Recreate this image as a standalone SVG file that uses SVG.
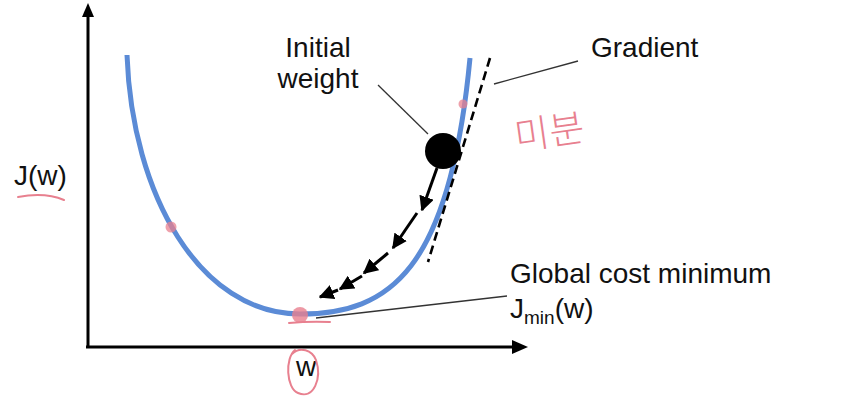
<svg xmlns="http://www.w3.org/2000/svg" width="868" height="414" viewBox="0 0 868 414">
<defs>
<style>
.t{font-family:"Liberation Sans",Arial,sans-serif;font-size:28px;fill:#111}
.ax{stroke:#000;stroke-width:3;fill:none}
.lead{stroke:#333;stroke-width:1.3;fill:none}
.step{stroke:#000;stroke-width:3;fill:none}
.pink{stroke:#e8808f;fill:none;stroke-linecap:round;stroke-linejoin:round}
</style>
<marker id="ah" viewBox="0 0 10 10" refX="9" refY="5" markerWidth="5" markerHeight="5" markerUnits="strokeWidth" orient="auto">
<path d="M0,0 L10,5 L0,10 Z" fill="#000"/>
</marker>
</defs>
<rect width="868" height="414" fill="#fff"/>
<g id="axes">
<line class="ax" x1="88" y1="348" x2="88" y2="15"/>
<path d="M88,3 L82,17 L94,17 Z" fill="#000"/>
<line class="ax" x1="86" y1="347" x2="514" y2="347"/>
<path d="M528,347 L512,340 L512,354 Z" fill="#000"/>
</g>
<g id="curve">
<path d="M127,55 C132,195 200,314 300,314 C390,314 450,270 470,58" stroke="#5b8bd6" stroke-width="5" fill="none"/>
</g>
<g id="gradient-line">
<line x1="490" y1="58" x2="428" y2="262" stroke="#000" stroke-width="2.6" stroke-dasharray="9,5"/>
</g>
<g id="ball">
<circle cx="443" cy="151" r="18" fill="#000"/>
</g>
<g id="connectors">
<line class="lead" x1="378" y1="85" x2="428" y2="134"/>
<line class="lead" x1="494" y1="84" x2="578" y2="61"/>
<line class="lead" x1="507" y1="296" x2="316" y2="318"/>
<line class="step" x1="437" y1="168" x2="422" y2="210" marker-end="url(#ah)"/>
<line class="step" x1="417" y1="213" x2="393" y2="248" marker-end="url(#ah)"/>
<line class="step" x1="388" y1="253" x2="364" y2="273" marker-end="url(#ah)"/>
<line class="step" x1="362" y1="276" x2="340" y2="289" marker-end="url(#ah)"/>
<line class="step" x1="338" y1="290" x2="320" y2="297" marker-end="url(#ah)"/>
</g>
<g id="labels">
<text class="t" x="318" y="57" text-anchor="middle">Initial</text>
<text class="t" x="318" y="88" text-anchor="middle">weight</text>
<text class="t" x="591" y="57">Gradient</text>
<text class="t" x="510" y="283">Global cost minimum</text>
<text class="t" x="510" y="318">J<tspan font-size="19" dy="6">min</tspan><tspan dy="-6">(w)</tspan></text>
<text class="t" x="14" y="185">J(w)</text>
<text class="t" x="296" y="376">w</text>
</g>
<g id="annotations">
<circle cx="463" cy="104" r="4.5" fill="#e8808f" opacity="0.75"/>
<circle cx="171" cy="227" r="5.5" fill="#e8808f" opacity="0.75"/>
<circle cx="300" cy="315" r="8" fill="#e8808f" opacity="0.8"/>
<path class="pink" stroke-width="2" d="M289,323 Q310,321 330,322"/>
<path class="pink" stroke-width="2" d="M18,197 Q45,192 64,200"/>
<path class="pink" stroke-width="2" d="M295,350 C285,358 286,388 298,393 C314,400 322,378 316,360 C312,350 300,346 292,354"/>
<text x="514" y="146" font-family="'Noto Sans CJK KR',sans-serif" font-size="38" font-weight="300" fill="#e8808f" transform="rotate(-8 545 130)">미분</text>
</g>
</svg>
